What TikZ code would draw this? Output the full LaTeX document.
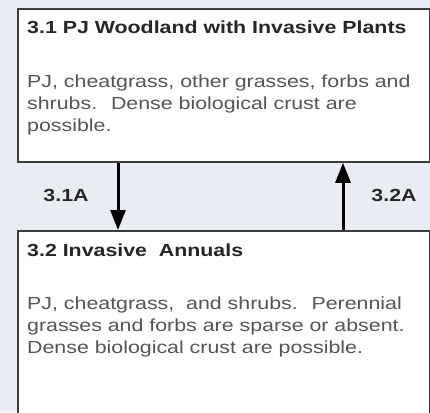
\documentclass[tikz,border=0pt]{standalone}
\usepackage{fontspec}
\setmainfont[FakeStretch=1.22]{Liberation Sans}
\usepackage{xcolor}
\usetikzlibrary{arrows.meta,positioning}
\definecolor{bggray}{HTML}{E9EDF3}
\definecolor{framegray}{HTML}{3C3C3C}
\definecolor{headdark}{HTML}{262626}
\definecolor{bodygray}{HTML}{555555}

\begin{document}
\begin{tikzpicture}[x=1pt,y=-1pt,
  statebox/.style={draw=framegray,line width=1.8pt,fill=white,minimum width=412pt,inner sep=0pt,anchor=north west},
  headtxt/.style={font=\fontsize{17.5}{22}\selectfont\bfseries,text=headdark,anchor=base west,inner sep=0pt},
  bodytxt/.style={font=\fontsize{17.5}{22}\selectfont,text=bodygray,align=left,anchor=base west,inner sep=0pt},
  arrlbl/.style={font=\fontsize{17.5}{22}\selectfont\bfseries,text=headdark,inner sep=0pt},
  transarr/.style={line width=3pt,-{Triangle[length=20pt,width=15pt]}}]
\path[use as bounding box,fill=bggray] (0,0) rectangle (430,412);
\clip (0,0) rectangle (430,412);

\node[statebox,minimum height=153pt] (b31) at (17,8) {};
\node[statebox,minimum height=200pt] (b32) at (17,230) {};

\node[headtxt] (t31) at (27,34) {3.1 PJ Woodland with Invasive Plants};
\node[bodytxt] (d31) at (27,131) {PJ, cheatgrass, other grasses, forbs and\\shrubs.~ Dense biological crust are\\possible.};
\node[headtxt] (t32) at (27,256) {3.2 Invasive~ Annuals};
\node[bodytxt] (d32) at (27,353) {PJ, cheatgrass,~ and shrubs.~ Perennial\\grasses and forbs are sparse or absent.\\Dense biological crust are possible.};

\draw[transarr] ([xshift=101pt]b31.south west) -- ([xshift=101pt]b32.north west);
\draw[transarr] ([xshift=326pt]b32.north west) -- ([xshift=326pt]b31.south west);
\node[arrlbl] (l31) at (66,195) {3.1A};
\node[arrlbl] (l32) at (394,195) {3.2A};
\end{tikzpicture}
\end{document}
